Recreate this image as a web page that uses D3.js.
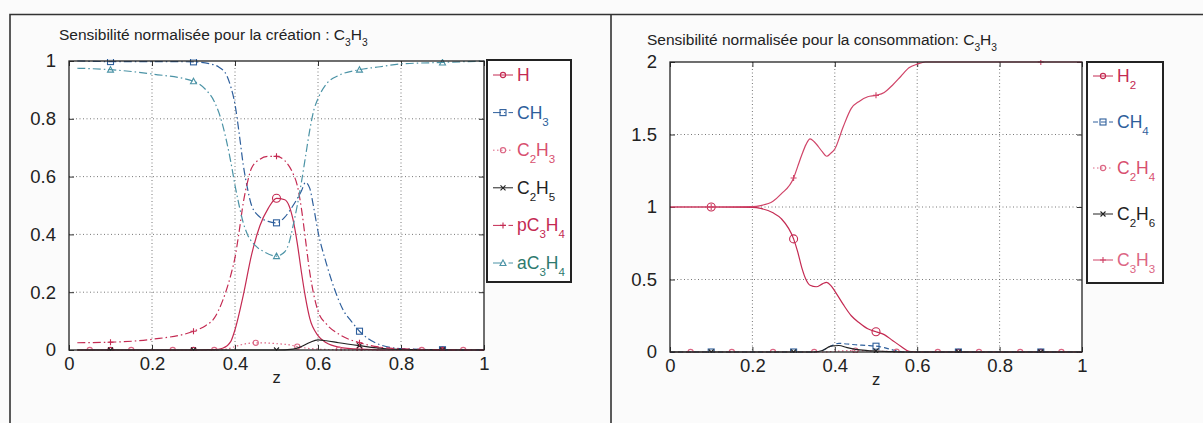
<!DOCTYPE html>
<meta charset='utf-8'>
<style>
  body { margin:0; background:#fbfbfb; }
  svg { font-family:'Liberation Sans', Arial, sans-serif; }
  .grid line { stroke:#555; stroke-width:.8px; stroke-dasharray:1,2.5; }
</style>
<body>
<script src='https://d3js.org/d3.v7.min.js'></script>
<script>
var width = 1203, height = 423;

var zTicks = [0, 0.2, 0.4, 0.6, 0.8, 1];
var yTicksLeft = [0, 0.2, 0.4, 0.6, 0.8, 1];
var yTicksRight = [0, 0.5, 1, 1.5, 2];

// ---- left panel : création ----
var H = [[0.02,0],[0.1,0],[0.3,0],[0.35,0.001],[0.37,0.006],[0.39,0.03],[0.4,0.07],[0.42,0.19],[0.44,0.33],[0.46,0.43],[0.48,0.49],[0.5,0.525],[0.52,0.52],[0.53,0.5],[0.54,0.45],[0.55,0.37],[0.56,0.27],[0.57,0.18],[0.58,0.11],[0.6,0.05],[0.62,0.025],[0.65,0.01],[0.7,0.003],[0.8,0],[0.9,0],[1,0]];
var CH3 = [[0.02,1],[0.1,0.998],[0.2,0.998],[0.3,0.997],[0.34,0.99],[0.36,0.98],[0.38,0.95],[0.39,0.91],[0.4,0.85],[0.41,0.75],[0.42,0.64],[0.43,0.56],[0.44,0.5],[0.46,0.46],[0.48,0.445],[0.5,0.44],[0.52,0.46],[0.54,0.5],[0.56,0.55],[0.57,0.58],[0.58,0.56],[0.59,0.49],[0.6,0.41],[0.62,0.3],[0.64,0.21],[0.66,0.14],[0.68,0.1],[0.7,0.065],[0.72,0.04],[0.75,0.018],[0.8,0.005],[0.9,0.001],[1,0]];
var C2H3 = [[0.02,0],[0.05,0],[0.15,0],[0.25,0],[0.35,0],[0.38,0.003],[0.4,0.012],[0.42,0.02],[0.45,0.025],[0.48,0.024],[0.5,0.022],[0.53,0.018],[0.55,0.012],[0.57,0.007],[0.6,0.003],[0.65,0.001],[0.75,0],[0.85,0],[0.95,0],[1,0]];
var C2H5 = [[0.02,0],[0.1,0],[0.3,0],[0.5,0],[0.54,0.003],[0.56,0.012],[0.58,0.026],[0.6,0.035],[0.62,0.032],[0.65,0.025],[0.7,0.015],[0.75,0.006],[0.8,0.002],[0.9,0],[1,0]];
var pC3H4 = [[0.02,0.025],[0.1,0.027],[0.2,0.037],[0.3,0.065],[0.33,0.085],[0.35,0.11],[0.37,0.17],[0.39,0.26],[0.4,0.32],[0.41,0.41],[0.42,0.51],[0.43,0.58],[0.44,0.63],[0.46,0.66],[0.48,0.67],[0.5,0.67],[0.52,0.655],[0.54,0.61],[0.55,0.57],[0.56,0.49],[0.57,0.38],[0.58,0.27],[0.59,0.19],[0.6,0.135],[0.62,0.09],[0.65,0.055],[0.7,0.025],[0.75,0.01],[0.8,0.004],[0.9,0.001],[1,0]];
var aC3H4 = [[0.02,0.975],[0.1,0.97],[0.2,0.955],[0.3,0.93],[0.33,0.9],[0.35,0.86],[0.37,0.78],[0.38,0.72],[0.39,0.65],[0.4,0.57],[0.41,0.5],[0.42,0.44],[0.43,0.4],[0.45,0.36],[0.47,0.34],[0.5,0.325],[0.52,0.34],[0.53,0.37],[0.54,0.43],[0.55,0.5],[0.56,0.58],[0.57,0.67],[0.58,0.76],[0.59,0.83],[0.6,0.87],[0.62,0.92],[0.65,0.95],[0.7,0.97],[0.75,0.98],[0.8,0.99],[0.9,0.995],[1,1]];

// ---- right panel : consommation ----
var H2 = [[0,1],[0.1,1],[0.2,0.997],[0.22,0.99],[0.25,0.96],[0.27,0.92],[0.3,0.78],[0.31,0.69],[0.32,0.58],[0.33,0.5],[0.34,0.46],[0.355,0.45],[0.37,0.47],[0.38,0.48],[0.39,0.46],[0.4,0.42],[0.42,0.33],[0.44,0.25],[0.46,0.2],[0.48,0.16],[0.5,0.14],[0.52,0.12],[0.54,0.08],[0.56,0.04],[0.58,0.005],[0.6,0],[0.7,0],[0.9,0],[1,0]];
var CH4 = [[0,0],[0.1,0],[0.3,0],[0.35,0],[0.37,0.01],[0.39,0.04],[0.41,0.06],[0.43,0.055],[0.45,0.05],[0.48,0.045],[0.5,0.04],[0.52,0.03],[0.54,0.015],[0.56,0.003],[0.58,0],[0.7,0],[0.9,0],[1,0]];
var C2H4 = [[0,0],[0.05,0],[0.15,0],[0.25,0],[0.35,0],[0.37,0],[0.4,0.005],[0.45,0.01],[0.5,0.006],[0.55,0.002],[0.6,0],[0.65,0],[0.75,0],[0.85,0],[0.95,0],[1,0]];
var C2H6 = [[0,0],[0.1,0],[0.3,0],[0.35,0],[0.37,0.01],[0.39,0.04],[0.41,0.045],[0.43,0.03],[0.45,0.018],[0.48,0.01],[0.5,0.007],[0.53,0.003],[0.56,0],[0.7,0],[0.9,0],[1,0]];
var C3H3 = [[0,1],[0.1,1],[0.2,1.003],[0.22,1.01],[0.25,1.04],[0.27,1.09],[0.3,1.2],[0.31,1.28],[0.32,1.36],[0.33,1.43],[0.34,1.47],[0.35,1.45],[0.37,1.38],[0.38,1.35],[0.39,1.37],[0.4,1.4],[0.42,1.55],[0.44,1.68],[0.46,1.73],[0.48,1.76],[0.5,1.77],[0.52,1.79],[0.54,1.84],[0.56,1.9],[0.58,1.96],[0.6,1.985],[0.62,2],[0.9,2],[1,2]];

var odd = [0.1, 0.3, 0.5, 0.7, 0.9];
var half = [0.05, 0.15, 0.25, 0.35, 0.45, 0.55, 0.65, 0.75, 0.85, 0.95];

var red = '#c42a52', pink = '#dc6684', blue = '#2e5f9c', teal = '#4b93a6', black = '#222';
var dashDot = '8,3,1.5,3';

var leftSeries = [
  {name:['H'], data:H, color:red, dash:null, mark:'circle', at:odd, big:true},
  {name:['CH','3'], data:CH3, color:blue, dash:dashDot, mark:'square', at:odd},
  {name:['C','2','H','3'], data:C2H3, color:pink, dash:'1.5,2.5', mark:'circle', at:half},
  {name:['C','2','H','5'], data:C2H5, color:black, dash:null, mark:'x', at:odd},
  {name:['pC','3','H','4'], data:pC3H4, color:red, dash:dashDot, mark:'plus', at:odd},
  {name:['aC','3','H','4'], data:aC3H4, color:teal, dash:dashDot, mark:'tri', at:odd, text:'#2e7a6e'}
];
var rightSeries = [
  {name:['H','2'], data:H2, color:red, dash:null, mark:'circle', at:odd, big:true},
  {name:['CH','4'], data:CH4, color:blue, dash:'5,3', mark:'square', at:odd},
  {name:['C','2','H','4'], data:C2H4, color:pink, dash:'1.5,2.5', mark:'circle', at:half},
  {name:['C','2','H','6'], data:C2H6, color:black, dash:null, mark:'x', at:odd},
  {name:['C','3','H','3'], data:C3H3, color:'#d04468', dash:null, mark:'plus', at:odd, text:pink}
];

var svg = d3.select('body').append('svg')
  .attr('width', width)
  .attr('height', height);

// outer frame of the scanned figure
svg.append('path')
  .attr('d', 'M10,423V14.5H1203M611,14.5V423')
  .attr('fill', 'none').attr('stroke', '#333').attr('stroke-width', 1.6);

function richText(sel, parts, size) {
  parts.forEach((p, i) => {
    var sub = i % 2 == 1;
    sel.append('tspan')
      .attr('font-size', sub ? size * 0.66 : size)
      .attr('dy', i == 0 ? 0 : (sub ? size * 0.4 : -size * 0.4))
      .text(p);
  });
}

function marker(g, type, x, y, color, big) {
  var r = big ? 4 : 2.6;
  if (type == 'circle') {
    g.append('circle').attr('cx', x).attr('cy', y).attr('r', r)
      .attr('fill', 'none').attr('stroke', color).attr('stroke-width', 1.1);
  } else if (type == 'square') {
    g.append('rect').attr('x', x - 3).attr('y', y - 3).attr('width', 6).attr('height', 6)
      .attr('fill', 'none').attr('stroke', color).attr('stroke-width', 1.1);
  } else if (type == 'x') {
    g.append('path').attr('d', `M${x-2.5},${y-2.5}L${x+2.5},${y+2.5}M${x-2.5},${y+2.5}L${x+2.5},${y-2.5}`)
      .attr('stroke', color).attr('stroke-width', 1.1);
  } else if (type == 'plus') {
    g.append('path').attr('d', `M${x-3},${y}H${x+3}M${x},${y-3}V${y+3}`)
      .attr('stroke', color).attr('stroke-width', 1.1);
  } else if (type == 'tri') {
    g.append('path').attr('d', `M${x},${y-3}L${x+3},${y+2.5}H${x-3}Z`)
      .attr('fill', 'none').attr('stroke', color).attr('stroke-width', 1.1);
  }
}

function panel(opt) {
  var x = d3.scaleLinear().domain([0, 1]).range([opt.left, opt.right]);
  var y = d3.scaleLinear().domain(opt.yDomain).range([opt.bottom, opt.top]);
  var g = svg.append('g');

  g.append('rect').attr('x', opt.left).attr('y', opt.top)
    .attr('width', opt.right - opt.left).attr('height', opt.bottom - opt.top)
    .attr('fill', '#fff');

  // dotted grid
  var grid = g.append('g').attr('class', 'grid');
  grid.selectAll('.gx').data(zTicks.slice(1, -1)).enter().append('line')
    .attr('x1', d => x(d)).attr('x2', d => x(d)).attr('y1', opt.top).attr('y2', opt.bottom);
  grid.selectAll('.gy').data(opt.yTicks.slice(1, -1)).enter().append('line')
    .attr('y1', d => y(d)).attr('y2', d => y(d)).attr('x1', opt.left).attr('x2', opt.right);

  // axes with inward ticks, box style
  var fs = 18.5;
  g.append('g').attr('transform', `translate(0,${opt.bottom})`)
    .call(d3.axisBottom(x).tickValues(zTicks).tickFormat(d3.format('')).tickSizeInner(-5).tickSizeOuter(0).tickPadding(7))
    .call(a => a.select('.domain').remove());
  g.append('g').attr('transform', `translate(0,${opt.top})`)
    .call(d3.axisTop(x).tickValues(zTicks).tickFormat('').tickSizeInner(-5).tickSizeOuter(0))
    .call(a => a.select('.domain').remove());
  g.append('g').attr('transform', `translate(${opt.left},0)`)
    .call(d3.axisLeft(y).tickValues(opt.yTicks).tickFormat(d3.format('')).tickSizeInner(-5).tickSizeOuter(0).tickPadding(13))
    .call(a => a.select('.domain').remove());
  g.append('g').attr('transform', `translate(${opt.right},0)`)
    .call(d3.axisRight(y).tickValues(opt.yTicks).tickFormat('').tickSizeInner(-5).tickSizeOuter(0))
    .call(a => a.select('.domain').remove());
  g.selectAll('.tick text').attr('font-size', fs).attr('font-family', null).attr('fill', '#222');
  g.selectAll('.tick line').attr('stroke', '#333');

  // curves
  var line = d3.line().x(d => x(d[0])).y(d => y(d[1])).curve(d3.curveMonotoneX);
  var clip = 'clip' + opt.id;
  svg.append('clipPath').attr('id', clip).append('rect')
    .attr('x', opt.left).attr('y', opt.top - 2).attr('width', opt.right - opt.left).attr('height', opt.bottom - opt.top + 3);
  var curves = g.append('g').attr('clip-path', `url(#${clip})`);
  opt.series.forEach(s => {
    curves.append('path').datum(s.data)
      .attr('d', line)
      .attr('fill', 'none')
      .attr('stroke', s.color)
      .attr('stroke-width', 1.2)
      .attr('stroke-dasharray', s.dash);
    s.data.filter(d => s.at.some(a => Math.abs(a - d[0]) < 1e-9)).forEach(d => {
      var big = s.big && d[1] > 0.05;
      marker(curves, s.mark, x(d[0]), y(d[1]), s.color, big);
    });
  });

  // plot frame
  g.append('rect').attr('x', opt.left).attr('y', opt.top)
    .attr('width', opt.right - opt.left).attr('height', opt.bottom - opt.top)
    .attr('fill', 'none').attr('stroke', '#222').attr('stroke-width', 1.3);

  // title & axis label
  var t = g.append('text').attr('x', opt.titleX).attr('y', opt.titleY)
    .attr('font-size', 15.5).attr('fill', '#222');
  richText(t, opt.title, 15.5);
  g.append('text').attr('x', (opt.left + opt.right) / 2).attr('y', opt.bottom + 33)
    .attr('text-anchor', 'middle').attr('font-size', 16.5).attr('fill', '#222').text('z');

  // legend
  var lg = g.append('g');
  lg.append('rect').attr('x', opt.legend.x).attr('y', opt.legend.y)
    .attr('width', opt.legend.w).attr('height', opt.legend.h)
    .attr('fill', '#fff').attr('stroke', '#222').attr('stroke-width', 2);
  opt.series.forEach((s, i) => {
    var ly = opt.legend.y + opt.legend.first + i * opt.legend.step;
    var lx = opt.legend.x + 6;
    lg.append('line').attr('x1', lx).attr('x2', lx + 20).attr('y1', ly).attr('y2', ly)
      .attr('stroke', s.color).attr('stroke-width', 1).attr('stroke-dasharray', s.dash);
    marker(lg, s.mark, lx + 10, ly, s.color, false);
    var txt = lg.append('text').attr('x', lx + 24).attr('y', ly + 6)
      .attr('font-size', 17.5).attr('fill', s.text || (s.color == pink ? '#d8506f' : s.color));
    richText(txt, s.name, 17.5);
  });
}

panel({
  id: 'L', left: 69, right: 484, top: 61, bottom: 350, yDomain: [0, 1], yTicks: yTicksLeft,
  series: leftSeries,
  titleX: 59, titleY: 40,
  title: ['Sensibilité normalisée pour la création : C', '3', 'H', '3'],
  legend: {x: 487, y: 60, w: 84, h: 222, first: 15, step: 37.6}
});
panel({
  id: 'R', left: 670, right: 1082, top: 62, bottom: 352, yDomain: [0, 2], yTicks: yTicksRight,
  series: rightSeries,
  titleX: 647, titleY: 45,
  title: ['Sensibilité normalisée pour la consommation: C', '3', 'H', '3'],
  legend: {x: 1087, y: 62, w: 76, h: 221, first: 14, step: 46}
});
</script>
</body>
